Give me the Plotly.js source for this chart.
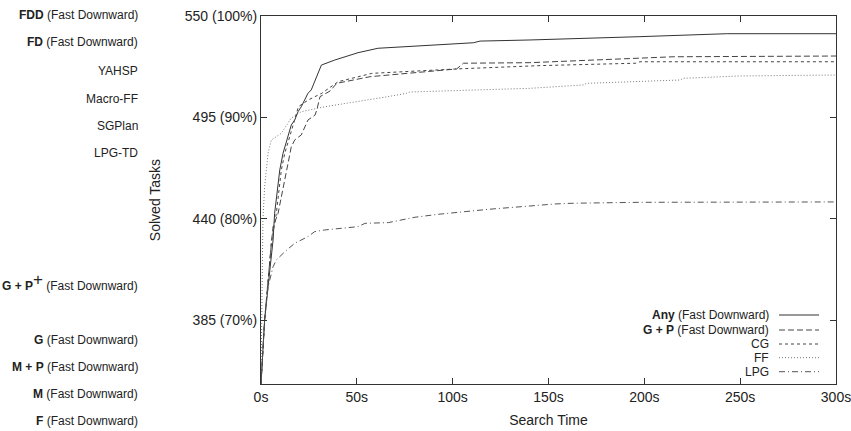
<!DOCTYPE html>
<html>
<head>
<meta charset="utf-8">
<script src="https://cdn.plot.ly/plotly-3.0.1.min.js"></script>
<style>html,body{margin:0;padding:0;background:#fff;}#chart{width:851px;height:431px;}</style>
</head>
<body>
<div id="chart"></div>
<script>
// ---- data ----
const anyX = [0, 1.0, 1.9, 3.7, 4.5, 6.3, 7.1, 8.9, 9.8, 11.5, 14.1, 15.8, 17.6, 19.3, 21.0, 22.8, 24.5, 26.2, 28.9, 29.7, 31.5, 38.4, 50.6, 61.0, 110.8, 114.3, 140.3, 197.7, 243, 300];
const anyY = [350.5, 367.3, 385.2, 403.3, 412.3, 428.6, 443.0, 457.5, 466.5, 475.6, 484.6, 490.9, 493.6, 498.1, 500.8, 504.5, 508.1, 509.9, 517.1, 518.9, 523.4, 526.1, 530.1, 532.5, 535.5, 536.4, 537.0, 538.8, 540.4, 540.4];

const gpX = [0, 1.9, 5.4, 6.3, 8.9, 11.5, 14.1, 15.8, 17.6, 21.0, 22.8, 24.5, 28.2, 29.1, 30.8, 36, 39.5, 56.9, 102.1, 105.6, 140.3, 171.6, 196, 215, 300];
const gpY = [350.5, 385.2, 426.8, 435.8, 443, 457.5, 470.1, 479.1, 482.8, 485.5, 490, 493.6, 496.3, 499, 506.3, 509.3, 513.5, 517.1, 521.3, 524.4, 524.7, 526.1, 527, 527.9, 528.3];

const cgX = [0, 1.9, 5.4, 7.1, 8.0, 10.6, 12.4, 15.0, 17.6, 19.5, 24.7, 31.7, 40.3, 57.8, 102.1, 145.6, 195.6, 197.7, 300];
const cgY = [350.5, 385.2, 426.8, 437.6, 443, 466.5, 475.6, 484.6, 493.6, 500.8, 504.5, 508.1, 514.4, 518.9, 521.3, 523.1, 524.4, 525.2, 525.2];

const ffX = [0, 1.0, 1.9, 2.8, 3.7, 5.4, 10.6, 15.8, 21.0, 33.2, 50.6, 66.3, 76.0, 77.7, 140.3, 168.1, 169.9, 218.6, 220.3, 249.9, 300];
const ffY = [350.5, 439.4, 457.5, 466.5, 475.7, 482.8, 486.4, 494.7, 498.1, 500.8, 503.5, 506.3, 508.1, 508.8, 510.8, 512.6, 513.5, 515.3, 516.2, 517.5, 518];

const lpgX = [0, 1.9, 3.7, 6.3, 8.0, 12.4, 17.6, 24.5, 28.0, 33.2, 50.6, 54.3, 66.4, 80.3, 92.5, 101.2, 118.6, 153.4, 162.8, 197.7, 300];
const lpgY = [350.5, 385.2, 403.3, 414.1, 417.7, 422.2, 426.8, 430.4, 433.1, 434, 435.8, 437.6, 438, 440.9, 442.5, 443.4, 445.2, 448.1, 448.5, 449, 449.2];

const xTickVals = [0, 50, 100, 150, 200, 250, 300];
const xTickText = ["0s", "50s", "100s", "150s", "200s", "250s", "300s"];
const yTickVals = [385, 440, 495, 550];
const yTickText = ["385 (70%)", "440 (80%)", "495 (90%)", "550 (100%)"];

const legendLabels = ["<b>Any</b> (Fast Downward)", "<b>G + P</b> (Fast Downward)", "CG", "FF", "LPG"];

const sideLabels = ["<b>FDD</b> (Fast Downward)", "<b>FD</b> (Fast Downward)", "YAHSP", "Macro-FF", "SGPlan", "LPG-TD",
  "<b>G + P</b><sup><span style=\"font-size:17px\">+</span></sup> (Fast Downward)", "<b>G</b> (Fast Downward)", "<b>M + P</b> (Fast Downward)", "<b>M</b> (Fast Downward)", "<b>F</b> (Fast Downward)"];

// ---- layout helpers (pixel geometry) ----
const W = 851, H = 431;
const M = {l: 261, r: 15, t: 16, b: 47};
const PW = W - M.l - M.r, PH = H - M.t - M.b;
const px2x = p => (p - M.l) / PW;
const px2y = p => (H - M.b - p) / PH;

const FONT = "Liberation Sans, Arial, Helvetica, sans-serif";
const TXT = "#222";

const styles = [
  {color: "#333", dash: "solid", width: 1},
  {color: "#444", dash: "6px,3px", width: 1},
  {color: "#444", dash: "3px,3px", width: 1},
  {color: "#777", dash: "1px,2px", width: 1},
  {color: "#555", dash: "6px,3px,1px,3px", width: 1}
];
const series = [[anyX, anyY], [gpX, gpY], [cgX, cgY], [ffX, ffY], [lpgX, lpgY]];

const traces = series.map((s, i) => ({
  x: s[0], y: s[1], type: "scatter", mode: "lines",
  line: {color: styles[i].color, dash: styles[i].dash, width: styles[i].width},
  name: legendLabels[i], showlegend: false, hoverinfo: "skip"
}));

const annotations = [];
const shapes = [];
const legendRows = [315, 330, 344, 357.7, 371.7];
legendLabels.forEach((lab, i) => {
  annotations.push({xref: "paper", yref: "paper", x: px2x(771), y: px2y(legendRows[i]),
    xanchor: "right", yanchor: "middle", text: lab, showarrow: false,
    font: {family: FONT, size: 12, color: TXT}});
  shapes.push({type: "line", xref: "paper", yref: "paper",
    x0: px2x(779), x1: px2x(819), y0: px2y(legendRows[i]), y1: px2y(legendRows[i]),
    line: {color: styles[i].color, dash: styles[i].dash, width: 1}});
});

const sideRows = [15, 42, 70.5, 99, 126, 153.3, 281.5, 340, 367, 394, 421];
sideLabels.forEach((lab, i) => {
  annotations.push({xref: "paper", yref: "paper", x: px2x(140), y: px2y(sideRows[i]),
    xanchor: "right", yanchor: "middle", text: lab, showarrow: false,
    font: {family: FONT, size: 12, color: TXT}});
});

const layout = {
  width: W, height: H,
  margin: M,
  paper_bgcolor: "#fff", plot_bgcolor: "#fff",
  font: {family: FONT, size: 14, color: TXT},
  showlegend: false,
  xaxis: {
    range: [0, 300], tickvals: xTickVals, ticktext: xTickText,
    ticks: "inside", ticklen: 6, tickcolor: "#333", tickwidth: 1,
    showline: true, linecolor: "#333", linewidth: 1, mirror: "ticks",
    showgrid: false, zeroline: false, fixedrange: true,
    ticklabeloverflow: "allow",
    tickfont: {family: FONT, size: 14, color: TXT},
    title: {text: "Search Time", font: {family: FONT, size: 14, color: TXT}, standoff: 11}
  },
  yaxis: {
    range: [350.5, 550], tickvals: yTickVals, ticktext: yTickText,
    ticks: "inside", ticklen: 6, tickcolor: "#333", tickwidth: 1,
    showline: true, linecolor: "#333", linewidth: 1, mirror: "ticks",
    showgrid: false, zeroline: false, fixedrange: true,
    ticklabeloverflow: "allow",
    tickfont: {family: FONT, size: 14, color: TXT},
    title: {text: "Solved Tasks", font: {family: FONT, size: 14, color: TXT}, standoff: 20}
  },
  annotations: annotations,
  shapes: shapes
};

Plotly.newPlot("chart", traces, layout, {displayModeBar: false, staticPlot: true});
</script>
</body>
</html>
